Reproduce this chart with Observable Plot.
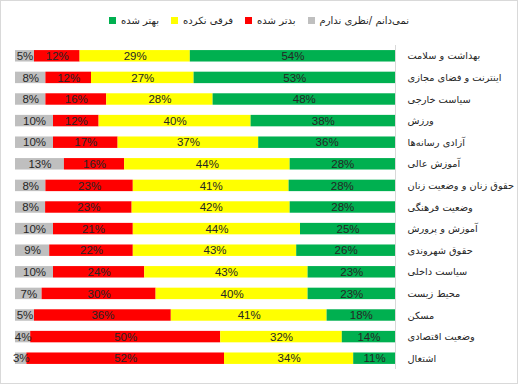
<!DOCTYPE html>
<html>
<head>
<meta charset="utf-8">
<script src="https://cdn.jsdelivr.net/npm/d3@7"></script>
<script src="https://cdn.jsdelivr.net/npm/@observablehq/plot@0.6"></script>
<style>
  html, body { margin: 0; padding: 0; background: #fff; }
  #wrap { position: relative; width: 518px; height: 384px; overflow: hidden; }
  #frame { position: absolute; left: 0; top: 0; width: 518px; height: 384px; box-sizing: border-box; border: 1px solid #d9d9d9; pointer-events: none; }
  #legend { position: absolute; left: 0; top: 0; width: 518px; height: 40px; display: flex; justify-content: center; align-items: center; font-family: "DejaVu Sans", sans-serif; font-size: 10px; color: #262626; box-sizing: border-box; padding-top: 1px; }
  .item { display: flex; align-items: center; margin: 0 6px; }
  .sw { width: 7px; height: 7px; display: inline-block; margin-right: 5px; }
  #chart { position: absolute; left: 0; top: 40px; }
  #chart svg { display: block; }
</style>
</head>
<body>
<div id="wrap">
  <div id="legend"></div>
  <div id="chart"></div>
  <div id="frame"></div>
</div>
<script>
const categories = ["بهداشت و سلامت","اینترنت و فضای مجازی","سیاست خارجی","ورزش","آزادی رسانه‌ها","آموزش عالی","حقوق زنان و وضعیت زنان","وضعیت فرهنگی","آموزش و پرورش","حقوق شهروندی","سیاست داخلی","محیط زیست","مسکن","وضعیت اقتصادی","اشتغال"];
const seriesNames = ["نمی‌دانم /نظری ندارم","بدتر شده","فرقی نکرده","بهتر شده"];
const seriesColors = ["#bfbfbf","#ff0000","#ffff00","#00b050"];
const dontKnow = [5,8,8,10,10,13,8,8,10,9,10,7,5,4,3];
const worse    = [12,12,16,12,17,16,23,23,21,22,24,30,36,50,52];
const noChange = [29,27,28,40,37,44,41,42,44,43,43,40,41,32,34];
const better   = [54,53,48,38,36,28,28,28,25,26,23,23,18,14,11];

const seriesValues = [dontKnow, worse, noChange, better];
const data = [];
categories.forEach((c, i) => {
  seriesNames.forEach((s, j) => data.push({cat: c, series: s, value: seriesValues[j][i]}));
});

// legend (left-to-right: green, yellow, red, gray)
const legend = document.getElementById("legend");
[3,2,1,0].forEach(j => {
  const it = document.createElement("div");
  it.className = "item";
  const sw = document.createElement("span");
  sw.className = "sw";
  sw.style.background = seriesColors[j];
  const tx = document.createElement("span");
  tx.dir = "rtl";
  tx.textContent = seriesNames[j];
  it.appendChild(sw); it.appendChild(tx);
  legend.appendChild(it);
});

const stackOpts = {x: "value", y: "cat", z: "series", order: seriesNames, offset: "normalize"};

const plot = Plot.plot({
  width: 518,
  height: 340,
  marginTop: 5,
  marginBottom: 11,
  marginLeft: 15,
  marginRight: 123,
  x: {domain: [0, 1], axis: null},
  y: {domain: categories, paddingInner: 0.47, paddingOuter: 0.235, align: 0.5, round: false},
  color: {domain: seriesNames, range: seriesColors},
  style: {fontFamily: "DejaVu Sans, sans-serif"},
  marks: [
    Plot.barX(data, Plot.stackX({...stackOpts, fill: "series"})),
    Plot.text(data, Plot.stackX({...stackOpts, text: d => d.value + "%", fill: "#262626", fontSize: 11.5, fontFamily: "Liberation Sans, Arial, sans-serif"})),
    Plot.ruleX([1], {stroke: "#d9d9d9"}),
    Plot.axisY({anchor: "right", tickSize: 0, tickPadding: 12, fontSize: 9.8, fill: "#262626", label: null, fontFamily: "DejaVu Sans, sans-serif"})
  ]
});
document.getElementById("chart").appendChild(plot);
</script>
</body>
</html>
